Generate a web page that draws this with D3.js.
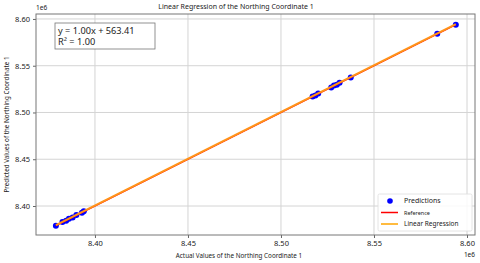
<!DOCTYPE html>
<html>
<head>
<meta charset="utf-8">
<script src="https://cdn.jsdelivr.net/npm/d3@7"></script>
<style>
  body { margin: 0; background: #fff; }
  text { font-family: "Noto Sans", sans-serif; fill: #222; }
</style>
</head>
<body>
<div id="chart"></div>
<script>
// values in units of 1e6
const actual = [8.3790, 8.3825, 8.3845, 8.3860, 8.3880, 8.3900, 8.3930, 8.3940,
                8.5170, 8.5185, 8.5200, 8.5270, 8.5285, 8.5300, 8.5315, 8.5375,
                8.5840, 8.5940];
const predicted = [8.3788, 8.3828, 8.3843, 8.3863, 8.3878, 8.3903, 8.3928, 8.3943,
                   8.5172, 8.5182, 8.5203, 8.5268, 8.5288, 8.5297, 8.5318, 8.5373,
                   8.5842, 8.5938];
const slope = 1.00;
const intercept = 563.41; // in original units
const xTicks = [8.40, 8.45, 8.50, 8.55, 8.60];
const yTicks = [8.40, 8.45, 8.50, 8.55, 8.60];

const width = 480, height = 263;
const margin = { top: 14, right: 5, bottom: 28, left: 36 };

const svg = d3.select("#chart").append("svg")
    .attr("width", width)
    .attr("height", height);

const x = d3.scaleLinear().domain([8.3683, 8.6043]).range([margin.left, width - margin.right]);
const y = d3.scaleLinear().domain([8.369, 8.6053]).range([height - margin.bottom, margin.top]);

// grid
svg.append("g").selectAll("line").data(xTicks).enter().append("line")
    .attr("x1", d => x(d)).attr("x2", d => x(d))
    .attr("y1", margin.top).attr("y2", height - margin.bottom)
    .attr("stroke", "#d4d4d4").attr("stroke-width", 1);
svg.append("g").selectAll("line").data(yTicks).enter().append("line")
    .attr("x1", margin.left).attr("x2", width - margin.right)
    .attr("y1", d => y(d)).attr("y2", d => y(d))
    .attr("stroke", "#d4d4d4").attr("stroke-width", 1);

// axes
const xAxis = svg.append("g")
    .attr("transform", `translate(0,${height - margin.bottom})`)
    .call(d3.axisBottom(x).tickValues(xTicks).tickFormat(d3.format(".2f")).tickSizeOuter(0).tickSize(3));
const yAxis = svg.append("g")
    .attr("transform", `translate(${margin.left},0)`)
    .call(d3.axisLeft(y).tickValues(yTicks).tickFormat(d3.format(".2f")).tickSizeOuter(0).tickSize(3));
[xAxis, yAxis].forEach(a => {
    a.select(".domain").remove();
    a.selectAll(".tick line").attr("stroke", "#666");
    a.selectAll(".tick text").style("font-size", "7.5px").attr("fill", "#222")
        .style("font-family", "'Noto Sans', sans-serif");
});

// frame
svg.append("rect")
    .attr("x", margin.left).attr("y", margin.top)
    .attr("width", width - margin.left - margin.right)
    .attr("height", height - margin.top - margin.bottom)
    .attr("fill", "none").attr("stroke", "#777").attr("stroke-width", 1);

// points
svg.append("g").selectAll("circle").data(actual).enter().append("circle")
    .attr("cx", d => x(d))
    .attr("cy", (d, i) => y(predicted[i]))
    .attr("r", 3)
    .attr("fill", "#0000ff");

// reference line y = x
const lo = d3.min(actual), hi = d3.max(actual);
svg.append("line")
    .attr("x1", x(lo)).attr("y1", y(lo)).attr("x2", x(hi)).attr("y2", y(hi))
    .attr("stroke", "#ff0000").attr("stroke-width", 1.5);

// regression line
const fit = v => slope * v + intercept / 1e6;
svg.append("line")
    .attr("x1", x(lo)).attr("y1", y(fit(lo))).attr("x2", x(hi)).attr("y2", y(fit(hi)))
    .attr("stroke", "#ff9419").attr("stroke-width", 2);

// equation box
svg.append("rect")
    .attr("x", 55).attr("y", 23).attr("width", 100).attr("height", 26)
    .attr("fill", "#fff").attr("stroke", "#777").attr("stroke-width", 0.8);
svg.append("text").attr("x", 58).attr("y", 33.5).style("font-size", "9.2px")
    .text(`y = ${slope.toFixed(2)}x + ${intercept.toFixed(2)}`);
svg.append("text").attr("x", 58).attr("y", 45).style("font-size", "9.2px")
    .text("R² = 1.00");

// title and labels
svg.append("text").attr("x", 236).attr("y", 9).attr("text-anchor", "middle")
    .style("font-size", "7px").text("Linear Regression of the Northing Coordinate 1");
svg.append("text").attr("x", 239).attr("y", 258).attr("text-anchor", "middle")
    .style("font-size", "6.3px").text("Actual Values of the Northing Coordinate 1");
svg.append("text")
    .attr("transform", `translate(9,${(margin.top + height - margin.bottom) / 2}) rotate(-90)`)
    .attr("text-anchor", "middle")
    .style("font-size", "6.3px").text("Predicted Values of the Northing Coordinate 1");
svg.append("text").attr("x", 36).attr("y", 10).style("font-size", "6.5px").text("1e6");
svg.append("text").attr("x", 475).attr("y", 257).attr("text-anchor", "end")
    .style("font-size", "6.5px").text("1e6");

// legend
const leg = svg.append("g").attr("transform", "translate(378,194)");
leg.append("rect").attr("width", 94).attr("height", 37).attr("rx", 1.5)
    .attr("fill", "#fff").attr("fill-opacity", 0.85).attr("stroke", "#ddd").attr("stroke-width", 0.8);
const items = [
    { label: "Predictions", type: "dot", color: "#0000ff", size: "7px" },
    { label: "Reference", type: "line", color: "#ff0000", size: "5.5px" },
    { label: "Linear Regression", type: "line", color: "#ffa500", size: "6.5px" }
];
items.forEach((it, i) => {
    const cy = 7 + i * 11.5;
    if (it.type === "dot") {
        leg.append("circle").attr("cx", 12).attr("cy", cy).attr("r", 2.8).attr("fill", it.color);
    } else {
        leg.append("line").attr("x1", 3).attr("x2", 20).attr("y1", cy).attr("y2", cy)
            .attr("stroke", it.color).attr("stroke-width", 1.5);
    }
    leg.append("text").attr("x", 26).attr("y", cy + 2.3).style("font-size", it.size).text(it.label);
});
</script>
</body>
</html>
